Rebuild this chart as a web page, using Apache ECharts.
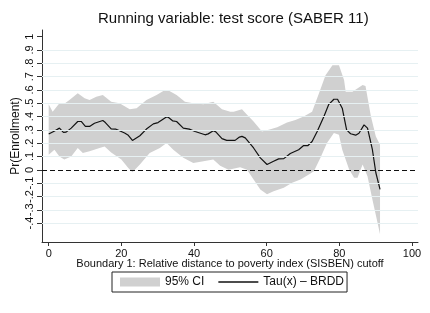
<!DOCTYPE html>
<html>
<head>
<meta charset="utf-8">
<script src="https://cdn.jsdelivr.net/npm/echarts@6/dist/echarts.min.js"></script>
<style>html,body{margin:0;padding:0;background:#fff}#c{width:430px;height:313px}</style>
</head>
<body>
<div id="c"></div>
<script>
var xTicks = [0, 20, 40, 60, 80, 100];
var yTicks = [-0.4, -0.3, -0.2, -0.1, 0, 0.1, 0.2, 0.3, 0.4, 0.5, 0.6, 0.7, 0.8, 0.9, 1];
var gridValues = [-0.4, -0.3, -0.2, -0.1, 0.1, 0.2, 0.3, 0.4, 0.5, 0.6, 0.7, 0.8, 0.9];

var tau = [[0,0.269],[1.5,0.29],[2.96,0.313],[4.06,0.281],[4.8,0.283],[6.2,0.313],[8.0,0.363],[8.95,0.363],[10.1,0.326],[11.25,0.326],[12.6,0.35],[14.9,0.37],[15.6,0.355],[17.2,0.308],[18.4,0.306],[20.9,0.276],[21.8,0.262],[23.05,0.221],[25.1,0.256],[26.9,0.306],[28.8,0.345],[30.1,0.355],[32.3,0.395],[32.9,0.395],[34.1,0.368],[35.2,0.363],[37.05,0.313],[38.7,0.306],[40.3,0.288],[43.05,0.263],[43.9,0.27],[45.3,0.293],[46.0,0.285],[47.7,0.234],[49.0,0.221],[51.3,0.221],[52.5,0.246],[53.2,0.251],[54.1,0.24],[56.4,0.164],[58.25,0.09],[60.1,0.04],[61.9,0.064],[63.3,0.082],[64.7,0.084],[66.5,0.122],[68.8,0.151],[70.1,0.181],[71.3,0.181],[72.5,0.213],[73.9,0.288],[75.75,0.40],[77.1,0.492],[78.5,0.53],[79.5,0.53],[80.8,0.463],[82.0,0.30],[83.1,0.271],[84.5,0.26],[85.4,0.275],[86.8,0.338],[87.75,0.313],[89.1,0.151],[90.05,-0.022],[91.2,-0.147]];

var ciUpper = [[0,0.492],[1.1,0.437],[2.96,0.50],[4.5,0.50],[5.7,0.525],[8.0,0.575],[9.9,0.537],[11.25,0.525],[13.1,0.549],[14.9,0.562],[17.2,0.512],[19.5,0.50],[22.3,0.455],[24.2,0.463],[26.9,0.525],[29.7,0.562],[32.0,0.60],[33.0,0.595],[35.2,0.562],[37.5,0.512],[39.8,0.50],[42.6,0.492],[45.3,0.512],[47.7,0.455],[50.0,0.437],[50.9,0.437],[53.2,0.455],[54.6,0.413],[56.4,0.363],[58.7,0.288],[60.55,0.30],[62.9,0.32],[65.6,0.355],[67.9,0.375],[70.2,0.40],[72.5,0.437],[74.4,0.575],[76.2,0.711],[78.1,0.786],[79.9,0.786],[81.3,0.674],[81.75,0.587],[83.6,0.587],[86.4,0.637],[87.2,0.63],[88.7,0.40],[90.05,0.251],[91.2,0.189]];

var ciLower = [[0,0.114],[1.58,0.151],[2.96,0.10],[4.3,0.077],[6.2,0.10],[8.0,0.164],[9.4,0.127],[11.25,0.139],[14.0,0.164],[15.4,0.176],[17.2,0.131],[20.0,0.077],[21.85,0.015],[23.05,-0.018],[25.1,0.04],[27.8,0.127],[30.6,0.164],[32.45,0.201],[34.3,0.151],[37.05,0.09],[39.8,0.052],[42.6,0.064],[45.3,0.077],[47.2,0.03],[49.5,0.0],[52.7,0.02],[54.6,0.0],[56.4,-0.072],[58.25,-0.147],[60.1,-0.184],[61.9,-0.16],[64.7,-0.134],[67.0,-0.097],[69.3,-0.072],[71.6,-0.035],[73.0,-0.01],[74.8,0.09],[76.6,0.201],[78.5,0.276],[79.9,0.263],[80.8,0.151],[82.7,0.002],[84.05,-0.06],[85.0,-0.06],[86.4,0.04],[87.75,-0.048],[89.1,-0.222],[90.5,-0.396],[91.2,-0.483]];

var FONT = '"Liberation Sans", Arial, Helvetica, sans-serif';
var chart = echarts.init(document.getElementById('c'), null, {renderer: 'canvas'});

function yFmt(v) {
  var r = Math.round(v * 10) / 10;
  return String(r).replace('0.', '.');
}

// band outline: upper edge left-to-right, then lower edge right-to-left
var bandOutline = ciUpper.concat(ciLower.slice().reverse());

chart.setOption({
  animation: false,
  backgroundColor: '#ffffff',
  title: {
    text: 'Running variable: test score (SABER 11)',
    left: 93, top: 6,
    textStyle: {fontFamily: FONT, fontSize: 15, fontWeight: 'normal', color: '#111'}
  },
  grid: {left: 42, right: 12, top: 30, bottom: 71, containLabel: false},
  legend: {
    bottom: 21, left: 112,
    orient: 'horizontal',
    padding: [4, 3, 4, 8],
    itemWidth: 40, itemHeight: 9, itemGap: 14,
    borderColor: '#222', borderWidth: 1, borderRadius: 0,
    backgroundColor: '#fff',
    textStyle: {fontFamily: FONT, fontSize: 12, color: '#111'},
    data: [
      {name: '95% CI', icon: 'rect'},
      {name: 'Tau(x) – BRDD', icon: 'path://M0,0L40,0L40,1.3L0,1.3Z'}
    ]
  },
  xAxis: {
    type: 'value', min: -1.84, max: 101.65,
    name: 'Boundary 1: Relative distance to poverty index (SISBEN) cutoff',
    nameLocation: 'middle', nameGap: 16, nameMoveOverlap: false,
    nameTextStyle: {fontFamily: FONT, fontSize: 11, color: '#111'},
    axisLine: {show: true, onZero: false, lineStyle: {color: '#333', width: 1}},
    axisTick: {show: true, length: 4, customValues: xTicks, lineStyle: {color: '#333'}},
    axisLabel: {customValues: xTicks, margin: 6, fontFamily: FONT, fontSize: 11, color: '#111'},
    splitLine: {show: false}
  },
  yAxis: {
    type: 'value', min: -0.542, max: 1.05,
    name: 'Pr(Enrollment)',
    nameLocation: 'middle', nameGap: 20, nameRotate: 90, nameMoveOverlap: false,
    nameTextStyle: {fontFamily: FONT, fontSize: 12, color: '#111'},
    axisLine: {show: true, onZero: false, lineStyle: {color: '#333', width: 1}},
    axisTick: {show: true, length: 5, customValues: yTicks, lineStyle: {color: '#333'}},
    axisLabel: {customValues: yTicks, rotate: 90, margin: 7, fontFamily: FONT, fontSize: 11, color: '#111', formatter: yFmt},
    splitLine: {show: false}
  },
  series: [
    {
      name: 'grid', type: 'line', data: [], silent: true, z: 1,
      markLine: {
        silent: true, symbol: 'none', animation: false,
        label: {show: false},
        lineStyle: {color: '#e6f0f2', width: 1, type: 'solid'},
        data: gridValues.map(function (v) { return {yAxis: v}; })
      }
    },
    {
      name: '95% CI', type: 'custom', z: 2,
      itemStyle: {color: '#d0d0d0'},
      data: [[0, 0]],
      renderItem: function (params, api) {
        var pts = bandOutline.map(function (p) { return api.coord([p[0], p[1]]); });
        return {type: 'polygon', shape: {points: pts}, style: {fill: '#d0d0d0'}};
      }
    },
    {
      name: 'zero', type: 'line', data: [], silent: true, z: 3,
      markLine: {
        silent: true, symbol: 'none', animation: false,
        label: {show: false},
        lineStyle: {color: '#111', width: 1, type: [5, 3]},
        data: [{yAxis: 0}]
      }
    },
    {
      name: 'Tau(x) – BRDD', type: 'line', data: tau, z: 4,
      symbol: 'none', smooth: false,
      lineStyle: {color: '#111', width: 1.2},
      itemStyle: {color: '#111'}
    }
  ]
});
</script>
</body>
</html>
